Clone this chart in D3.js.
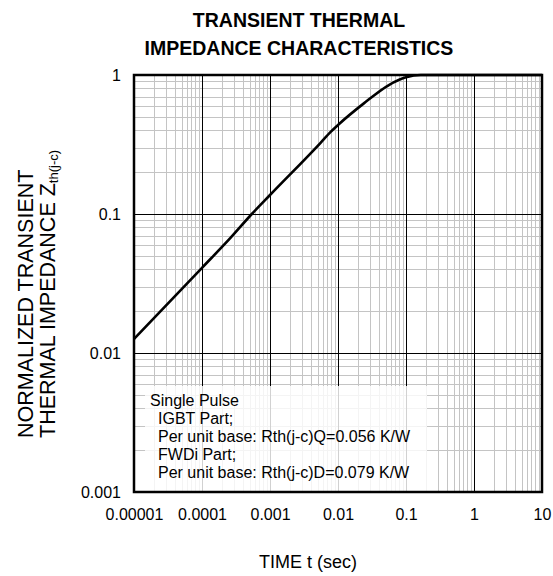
<!DOCTYPE html>
<html>
<head>
    <title>Transient Thermal Impedance Characteristics</title>
    <script src="https://d3js.org/d3.v7.min.js"></script>
    <style type="text/css">
        body {
            margin: 0;
            background: #fff;
            font-family: "Liberation Sans", Arial, sans-serif;
        }
        .tick-label {
            font-size: 16px;
            fill: #000;
        }
        .minor { stroke: #c4c4c4; stroke-width: 1; }
        .major { stroke: #000; stroke-width: 1; }
    </style>
</head>
<body>
    <svg id="chart" width="553" height="576"></svg>

    <script>
        // curve (time in sec, normalized Zth)
        var timeVals = [1e-5, 1e-4, 2.6e-4, 5.4e-4, 1e-3, 5.5e-3, 7.8e-3, 1e-2, 2.4e-2, 5.6e-2, 0.1, 0.165, 10];
        var zthVals  = [0.0126, 0.041, 0.067, 0.1, 0.137, 0.324, 0.39, 0.437, 0.625, 0.847, 0.962, 1.0, 1.0];

        var xTicks = [1e-5, 1e-4, 1e-3, 1e-2, 1e-1, 1, 10];
        var xTickLabels = ["0.00001", "0.0001", "0.001", "0.01", "0.1", "1", "10"];
        var yTicks = [0.001, 0.01, 0.1, 1];
        var yTickLabels = ["0.001", "0.01", "0.1", "1"];

        var legendLines = [
            "Single Pulse",
            "IGBT Part;",
            "Per unit base: Rth(j-c)Q=0.056 K/W",
            "FWDi Part;",
            "Per unit base: Rth(j-c)D=0.079 K/W"
        ];

        var margin = { top: 75, right: 11, bottom: 84, left: 134 },
            width = 553 - margin.left - margin.right,
            height = 576 - margin.top - margin.bottom;

        var svg = d3.select("#chart");
        var g = svg.append("g")
            .attr("transform", "translate(" + margin.left + "," + margin.top + ")");

        var x = d3.scaleLog().domain([1e-5, 10]).range([0, width]);
        var y = d3.scaleLog().domain([0.001, 1]).range([height, 0]);

        // grid: minor first, then decades on top
        var xGrid = x.ticks().filter(function(d) { return d > 1e-5 && d < 10; });
        var yGrid = y.ticks().filter(function(d) { return d > 0.001 && d < 1; });
        function isDecade(v) {
            var l = Math.log10(v);
            return Math.abs(l - Math.round(l)) < 1e-9;
        }

        g.selectAll("line.vx").data(xGrid.filter(function(d) { return !isDecade(d); }))
            .enter().append("line").attr("class", "minor")
            .attr("x1", function(d) { return Math.round(x(d)) + 0.5; })
            .attr("x2", function(d) { return Math.round(x(d)) + 0.5; })
            .attr("y1", 0).attr("y2", height);
        g.selectAll("line.hy").data(yGrid.filter(function(d) { return !isDecade(d); }))
            .enter().append("line").attr("class", "minor")
            .attr("y1", function(d) { return Math.round(y(d)) + 0.5; })
            .attr("y2", function(d) { return Math.round(y(d)) + 0.5; })
            .attr("x1", 0).attr("x2", width);

        g.selectAll("line.mx").data(xGrid.filter(isDecade))
            .enter().append("line").attr("class", "major")
            .attr("x1", function(d) { return Math.round(x(d)) + 0.5; })
            .attr("x2", function(d) { return Math.round(x(d)) + 0.5; })
            .attr("y1", 0).attr("y2", height);
        g.selectAll("line.my").data(yGrid.filter(isDecade))
            .enter().append("line").attr("class", "major")
            .attr("y1", function(d) { return Math.round(y(d)) + 0.5; })
            .attr("y2", function(d) { return Math.round(y(d)) + 0.5; })
            .attr("x1", 0).attr("x2", width);

        // legend box washes out the grid behind the text
        g.append("rect")
            .attr("x", 11).attr("y", 311)
            .attr("width", 282).attr("height", height - 311)
            .attr("fill", "#fff")
            .attr("fill-opacity", 0.82);

        var lg = g.append("g").attr("transform", "translate(16,331)");
        lg.selectAll("text").data(legendLines).enter().append("text")
            .attr("x", function(d, i) { return i === 0 ? 0 : 8; })
            .attr("y", function(d, i) { return i * 17.9; })
            .style("font-size", "16px")
            .text(function(d) { return d; });

        // curve
        var pts = timeVals.map(function(t, i) { return [x(t), y(zthVals[i])]; });
        g.append("path")
            .datum(pts)
            .attr("fill", "none")
            .attr("stroke", "#000")
            .attr("stroke-width", 2.6)
            .attr("stroke-linejoin", "round")
            .attr("d", d3.line().curve(d3.curveMonotoneX));

        // frame
        g.append("rect")
            .attr("x", 0).attr("y", 0)
            .attr("width", width).attr("height", height)
            .attr("fill", "none")
            .attr("stroke", "#000")
            .attr("stroke-width", 2.5);

        // axes (labels only)
        var xAxis = g.append("g")
            .attr("transform", "translate(0," + height + ")")
            .call(d3.axisBottom(x).tickValues(xTicks).tickSize(0).tickPadding(17)
                .tickFormat(function(d, i) { return xTickLabels[i]; }));
        xAxis.select(".domain").remove();
        xAxis.selectAll("text").attr("class", "tick-label")
            .style("font-family", "'Liberation Sans', Arial, sans-serif");

        var yAxis = g.append("g")
            .call(d3.axisLeft(y).tickValues(yTicks).tickSize(0).tickPadding(13)
                .tickFormat(function(d, i) { return yTickLabels[i]; }));
        yAxis.select(".domain").remove();
        yAxis.selectAll("text").attr("class", "tick-label")
            .style("font-family", "'Liberation Sans', Arial, sans-serif");

        // titles
        svg.append("text")
            .attr("x", 299).attr("y", 27)
            .attr("text-anchor", "middle")
            .style("font-size", "19.5px").style("font-weight", "bold")
            .text("TRANSIENT THERMAL");
        svg.append("text")
            .attr("x", 299).attr("y", 55)
            .attr("text-anchor", "middle")
            .style("font-size", "19.5px").style("font-weight", "bold")
            .text("IMPEDANCE CHARACTERISTICS");

        svg.append("text")
            .attr("x", margin.left + width / 2 - 30).attr("y", 568)
            .attr("text-anchor", "middle")
            .style("font-size", "18px")
            .text("TIME t (sec)");

        var yl = svg.append("g").attr("transform", "translate(0,438) rotate(-90)");
        yl.append("text")
            .attr("x", 0).attr("y", 33)
            .style("font-size", "21.5px")
            .text("NORMALIZED TRANSIENT");
        var t2 = yl.append("text")
            .attr("x", 0).attr("y", 55)
            .style("font-size", "21.5px");
        t2.append("tspan").text("THERMAL IMPEDANCE Z");
        t2.append("tspan").attr("dy", 3).style("font-size", "13px").text("th(j-c)");
    </script>
</body>
</html>
